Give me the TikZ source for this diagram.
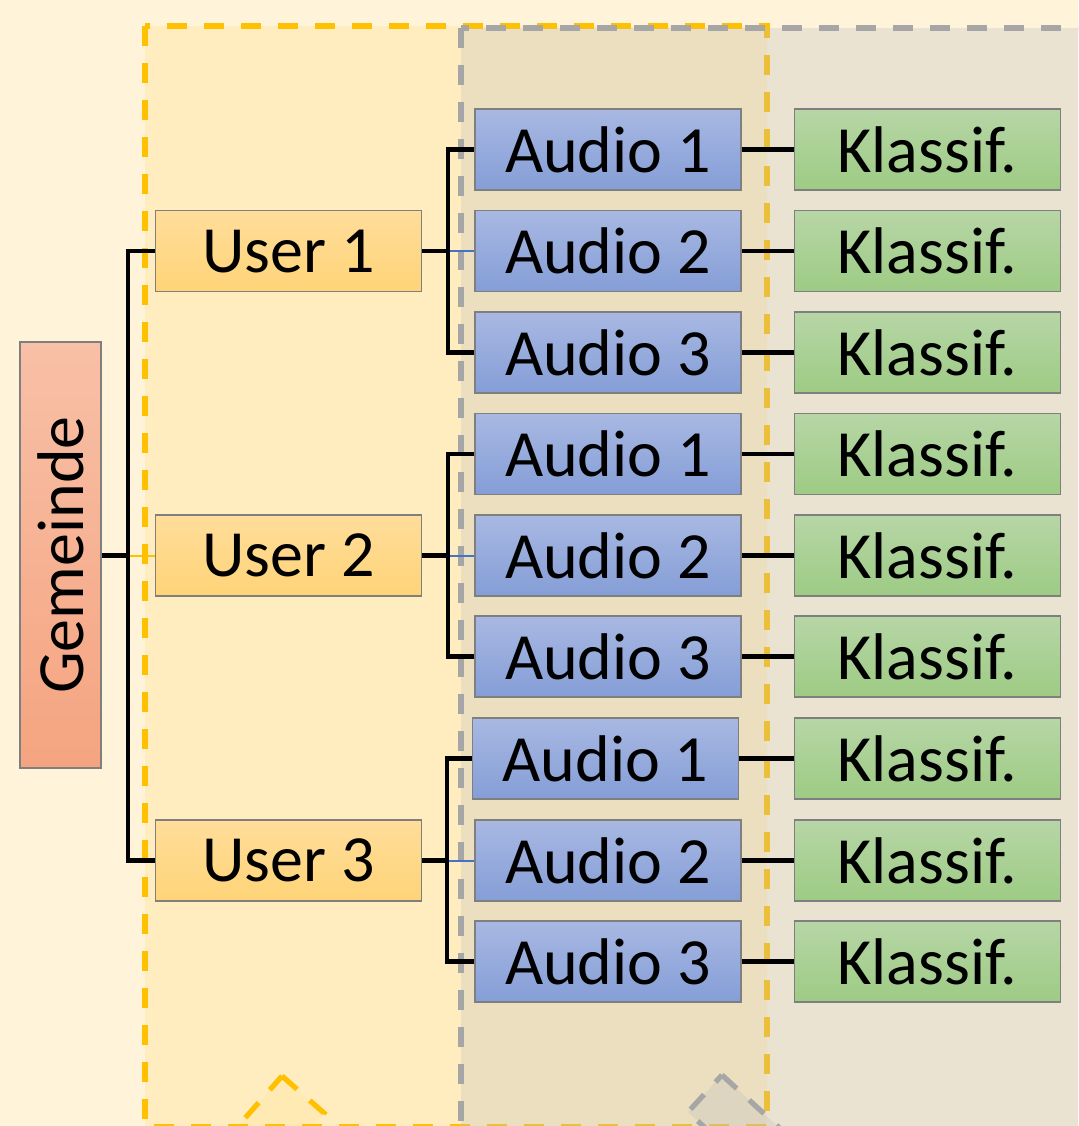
\documentclass[tikz,border=0pt]{standalone}
\usepackage{fontspec}
\setmainfont{Carlito}

\definecolor{bgcream}{HTML}{FFF4DA}
\definecolor{gold}{HTML}{FFC000}
\definecolor{dashgray}{HTML}{A6A6A6}
\definecolor{veilgray}{HTML}{BFBFBF}
\definecolor{boxline}{HTML}{7F7F7F}
\definecolor{linkblue}{HTML}{4472C4}
\definecolor{usertop}{RGB}{255,221,154}
\definecolor{userbot}{RGB}{255,212,120}
\definecolor{audiotop}{RGB}{168,184,226}
\definecolor{audiobot}{RGB}{133,158,215}
\definecolor{klasstop}{RGB}{183,214,166}
\definecolor{klassbot}{RGB}{157,203,132}
\definecolor{gemtop}{RGB}{248,192,167}
\definecolor{gembot}{RGB}{245,164,128}

\tikzset{
  zone/.style={line width=2.6pt, dash pattern=on 10pt off 8.5pt},
  box/.style={draw=boxline, line width=0.9pt, minimum width=133pt,
    minimum height=40.5pt, inner sep=0pt, shading=axis,
    font=\fontsize{33pt}{39pt}\selectfont},
  userbox/.style={box, top color=usertop, bottom color=userbot},
  audiobox/.style={box, top color=audiotop, bottom color=audiobot},
  klassbox/.style={box, top color=klasstop, bottom color=klassbot},
  gembox/.style={draw=boxline, line width=0.9pt, minimum width=40.5pt,
    minimum height=213pt, inner sep=0pt, shading=axis,
    top color=gemtop, bottom color=gembot},
  conn/.style={draw=black, line width=2.4pt},
  thinblue/.style={draw=linkblue, line width=1pt},
  thingold/.style={draw=gold, line width=1pt},
}

\begin{document}
\begin{tikzpicture}[x=0.5pt, y=-0.5pt]
\useasboundingbox (0,0) rectangle (1078,1126);
\fill[bgcream] (0,0) rectangle (1078,1126);

\begin{scope}
  \clip (0,0) rectangle (1078,1126);
  % user zone
  \fill[gold, fill opacity=0.12] (145,26) rectangle (767,1127);
  \draw[zone, gold] (145,26) rectangle (767,1127);
  \filldraw[zone, draw=gold, fill=gold, fill opacity=0.06]
    (282,1076) -- (324,1113) -- (245,1203) -- (203,1166) -- cycle;
  % audio / classification zone
  \fill[veilgray, fill opacity=0.3] (461,28) rectangle (1100,1132);
  \draw[zone, dashgray] (461,28) rectangle (1100,1132);
  \filldraw[zone, draw=dashgray, fill=veilgray, fill opacity=0.3]
    (722,1075) -- (811,1157) -- (777,1194) -- (688,1112) -- cycle;
\end{scope}

% nodes
\node[gembox] (gem) at (60.5,555) {};
\node[rotate=90, font=\fontsize{33pt}{39pt}\selectfont] (gemtxt) at (gem.center) {Gemeinde};

\node[userbox] (u1) at (288.5,251) {User 1};
\node[userbox] (u2) at (288.5,555.5) {User 2};
\node[userbox] (u3) at (288.5,860.5) {User 3};

\foreach \i/\y in {1/149.5, 2/251, 3/352.5, 4/454, 5/555.5, 6/656.5, 8/860.5, 9/961.5} {
  \pgfmathtruncatemacro{\k}{mod(\i-1,3)+1}
  \node[audiobox] (a\i) at (608,\y) {Audio \k};
}
\node[audiobox] (a7) at (605.5,758.5) {Audio 1};

\foreach \i/\y in {1/149.5, 2/251, 3/352.5, 4/454, 5/555.5, 6/656.5, 7/758.5, 8/860.5, 9/961.5}
  \node[klassbox] (k\i) at (927.5,\y) {Klassif.};

% bus points of the tree
\coordinate (b0) at (128,555.5);
\coordinate (b1) at (448,251);
\coordinate (b2) at (448,555.5);
\coordinate (b3) at (447,860.5);

% Gemeinde to users
\draw[conn] (gem.east |- b0) -- (b0);
\draw[conn] (u1.west) -| (b0) |- (u3.west);
\draw[thingold] ([xshift=1pt]b0) -- (u2.west);

% users to audio files
\draw[conn] (u1.east) -- (b1);
\draw[conn] (a1.west) -| (b1) |- (a3.west);
\draw[thinblue] ([xshift=1pt]b1) -- (a2.west);

\draw[conn] (u2.east) -- (b2);
\draw[conn] (a4.west) -| (b2) |- (a6.west);
\draw[thinblue] ([xshift=1pt]b2) -- (a5.west);

\draw[conn] (u3.east) -- (b3);
\draw[conn] (a7.west) -| (b3) |- (a9.west);
\draw[thinblue] ([xshift=1pt]b3) -- (a8.west);

% audio files to classification
\foreach \i in {1,...,9}
  \draw[conn] (a\i.east) -- (k\i.west);
\end{tikzpicture}
\end{document}
